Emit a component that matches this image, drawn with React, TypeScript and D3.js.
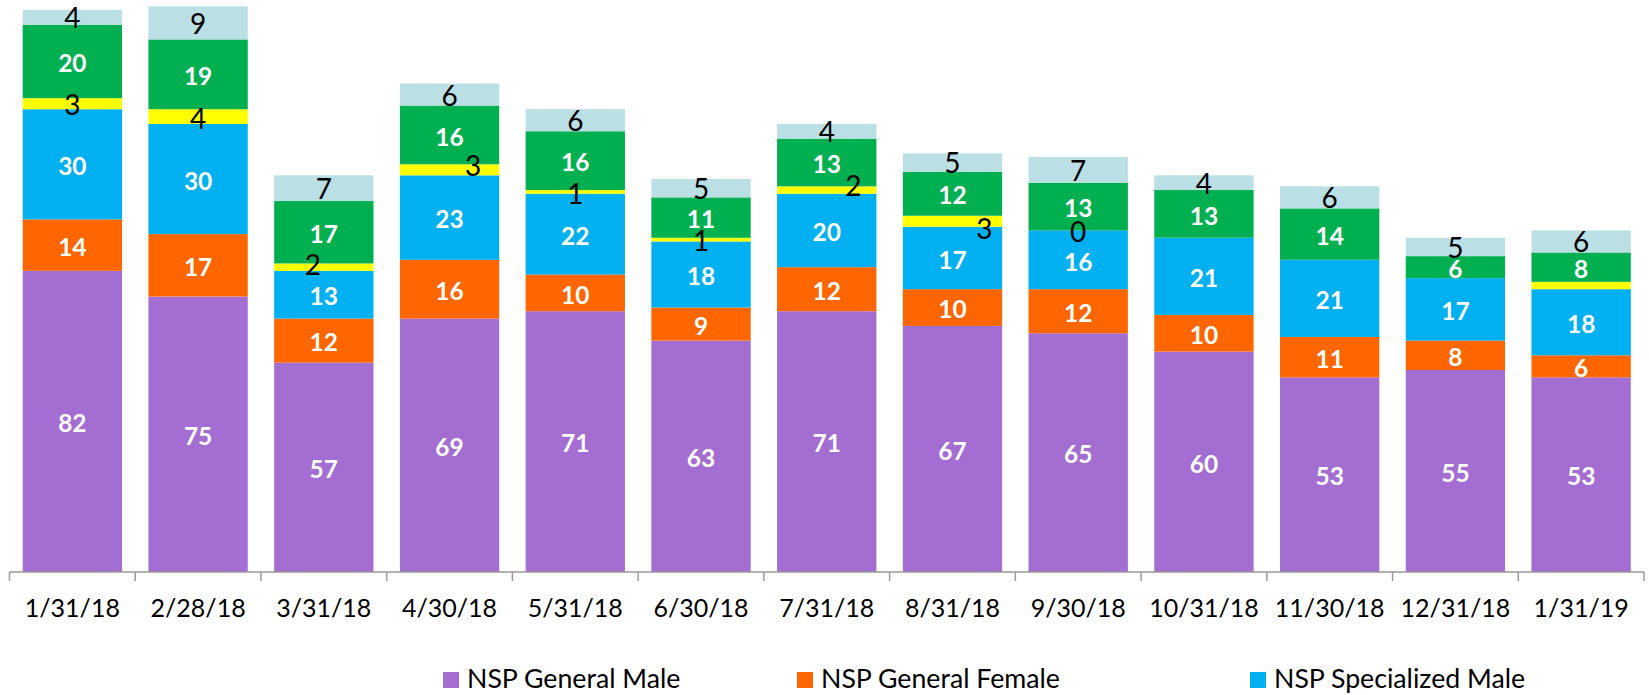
import React, { useEffect } from "react";
import * as d3 from "d3";

const categories = ["1/31/18", "2/28/18", "3/31/18", "4/30/18", "5/31/18", "6/30/18", "7/31/18", "8/31/18", "9/30/18", "10/31/18", "11/30/18", "12/31/18", "1/31/19"];
const generalMale = [82, 75, 57, 69, 71, 63, 71, 67, 65, 60, 53, 55, 53];
const generalFemale = [14, 17, 12, 16, 10, 9, 12, 10, 12, 10, 11, 8, 6];
const specializedMale = [30, 30, 13, 23, 22, 18, 20, 17, 16, 21, 21, 17, 18];
const yellowSeries = [3, 4, 2, 3, 1, 1, 2, 3, 0, 0, 0, 0, 2];
const greenSeries = [20, 19, 17, 16, 16, 11, 13, 12, 13, 13, 14, 6, 8];
const lightBlueSeries = [4, 9, 7, 6, 6, 5, 4, 5, 7, 4, 6, 5, 6];

// which yellow labels are shown, and their manual nudges (dx, dy) in px
const yellowLabelShown = [true, true, true, true, true, true, true, true, true, false, false, false, false];
const yellowLabelNudge: [number, number][] = [[0, 1], [0, 2.5], [-11, -2], [23.5, -4], [0, 2], [0, 1], [26.5, -4.5], [32, 7.6], [0, 1.3], [0, 0], [0, 0], [0, 0], [0, 0]];

const legendNames = ["NSP General Male", "NSP General Female", "NSP Specialized Male"];

const seriesDefs = [
  { key: "gm", values: generalMale, color: "#A46DD2", label: "white" },
  { key: "gf", values: generalFemale, color: "#FF6600", label: "white" },
  { key: "sm", values: specializedMale, color: "#00B0F0", label: "white" },
  { key: "y", values: yellowSeries, color: "#FFFF00", label: "yellow" },
  { key: "g", values: greenSeries, color: "#00B050", label: "white" },
  { key: "lb", values: lightBlueSeries, color: "#BADFE4", label: "black" },
];

const W = 1649;
const H = 695;
const FONT = "Lato, 'Open Sans', sans-serif";

export default function App() {
  useEffect(() => {
    document.body.style.margin = "0";
  }, []);

  const x = d3.scaleBand<string>().domain(categories).range([9.5, 1644]).paddingInner(0.21).paddingOuter(0.105);
  const y = d3.scaleLinear().domain([0, 155]).range([572, 2.7]);
  const step = x.step();

  const rows = categories.map((c, i) => {
    const r: any = { cat: c };
    seriesDefs.forEach((s) => (r[s.key] = s.values[i]));
    return r;
  });
  const stacked = d3.stack<any>().keys(seriesDefs.map((s) => s.key))(rows);

  const legendX = [443, 797, 1250];

  return (
    <svg width={W} height={H} style={{ display: "block", background: "#fff" }} fontFamily={FONT}>
      {stacked.map((layer, si) => {
        const def = seriesDefs[si];
        return (
          <g key={def.key}>
            {layer.map((d, i) => {
              const y0 = y(d[0]);
              const y1 = y(d[1]);
              if (d[1] - d[0] <= 0) return null;
              return <rect key={i} x={x(categories[i])} y={y1} width={x.bandwidth()} height={y0 - y1} fill={def.color} />;
            })}
          </g>
        );
      })}
      {stacked.map((layer, si) => {
        const def = seriesDefs[si];
        return (
          <g key={def.key + "-lab"}>
            {layer.map((d, i) => {
              const v = def.values[i];
              const cx = (x(categories[i]) as number) + x.bandwidth() / 2;
              const cy = (y(d[0]) + y(d[1])) / 2;
              if (def.label === "white") {
                return (
                  <text key={i} x={cx} y={cy + 2 + 8.8} textAnchor="middle" fill="#fff" fontWeight={700} fontSize={24.5}>
                    {v}
                  </text>
                );
              }
              if (def.label === "yellow") {
                if (!yellowLabelShown[i]) return null;
                const [dx, dy] = yellowLabelNudge[i];
                return (
                  <text key={i} x={cx + dx} y={cy + dy + 10} textAnchor="middle" fill="#000" fontSize={28}>
                    {v}
                  </text>
                );
              }
              return (
                <text key={i} x={cx} y={cy + 1 + 10} textAnchor="middle" fill="#000" fontSize={28}>
                  {v}
                </text>
              );
            })}
          </g>
        );
      })}
      <g>
        <line x1={9.5} x2={1644} y1={572} y2={572} stroke="#999" strokeWidth={1.5} />
        {d3.range(categories.length + 1).map((k) => (
          <line key={k} x1={9.5 + k * step} x2={9.5 + k * step} y1={572} y2={581} stroke="#999" strokeWidth={1.5} />
        ))}
        {categories.map((c) => (
          <text key={c} x={(x(c) as number) + x.bandwidth() / 2} y={617} textAnchor="middle" fontSize={25} fill="#000">
            {c}
          </text>
        ))}
      </g>
      <g>
        {legendNames.map((n, i) => (
          <g key={n}>
            <rect x={legendX[i]} y={672} width={16} height={16} fill={seriesDefs[i].color} />
            <text x={legendX[i] + 24} y={688} fontSize={26.7} fill="#000">
              {n}
            </text>
          </g>
        ))}
      </g>
    </svg>
  );
}
